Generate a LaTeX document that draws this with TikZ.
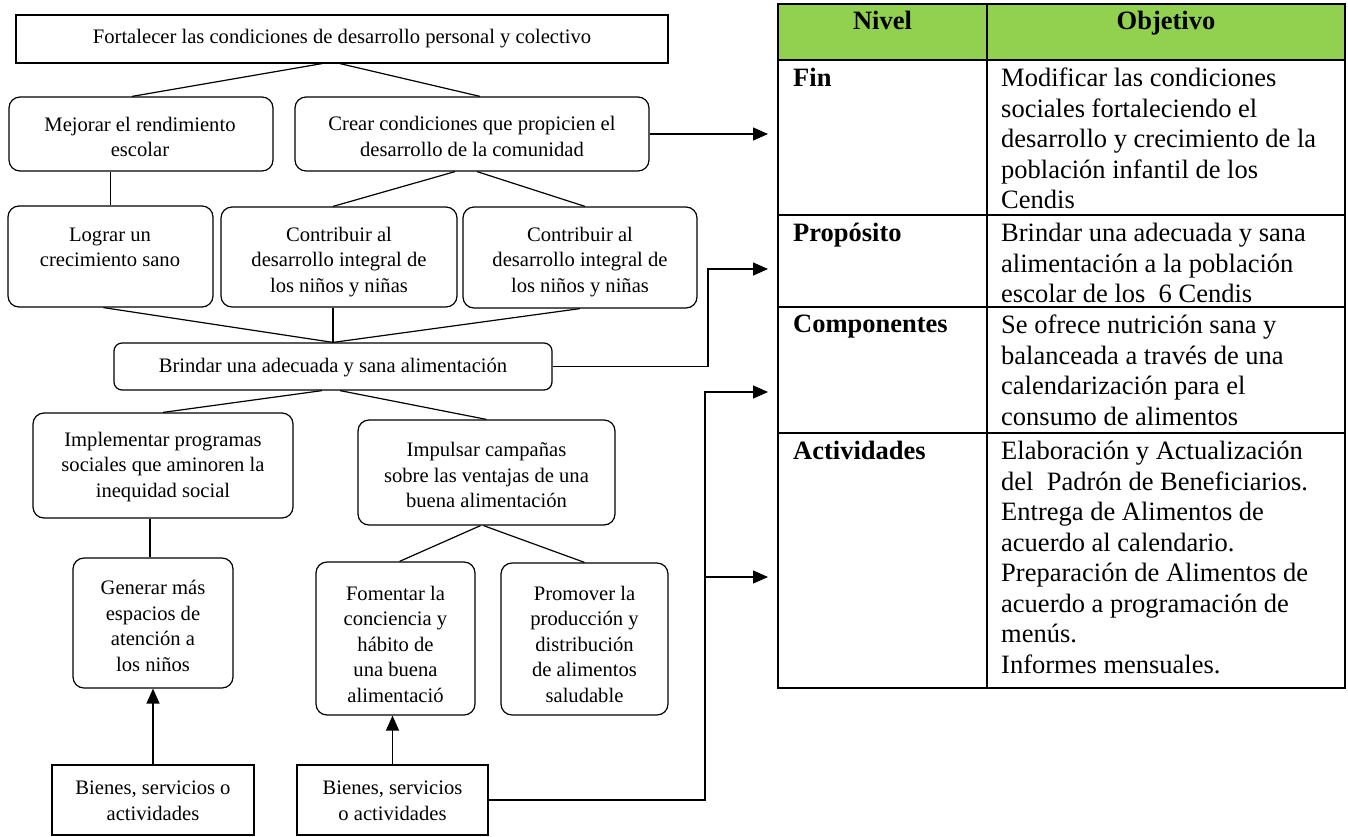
\documentclass[tikz,border=0pt]{standalone}
\usepackage{fontspec}
\setmainfont{Liberation Serif}
\usetikzlibrary{arrows.meta,calc}
\newcommand\diagfont{\fontsize{20.6}{25.5}\selectfont}
\newcommand\tabfont{\fontsize{26.5}{30.5}\selectfont}
\newcommand\tabbold{\fontsize{26.5}{30.5}\selectfont\bfseries}
\definecolor{hdrgreen}{HTML}{92D050}
\begin{document}
\begin{tikzpicture}[x=1pt,y=-1pt,
  box/.style={draw, line width=1.2pt, rounded corners=11pt, inner sep=0pt},
  sbox/.style={draw, line width=1.2pt, inner sep=0pt},
  txt/.style={align=center, inner sep=0pt, font=\diagfont},
  ln/.style={line width=1.2pt},
  arr/.style={line width=1.3pt, -{Triangle[length=15pt,width=13pt]}},
  tline/.style={line width=2.4pt},
  ttext/.style={anchor=north west, inner sep=0pt, align=left, font=\tabfont},
  thead/.style={anchor=base, inner sep=0pt, font=\tabbold},
  tlabel/.style={anchor=north west, inner sep=0pt, align=left, font=\tabbold},
  ]
\useasboundingbox (0,0) rectangle (1348,836);

% ---------- boxes ----------
\node[sbox, minimum width=652pt, minimum height=48pt] (top) at (342,39) {};
\node[box, minimum width=264pt, minimum height=74pt] (mej) at (141,134) {};
\node[box, minimum width=354pt, minimum height=74pt] (crear) at (472,134) {};
\node[box, minimum width=205pt, minimum height=101pt] (log) at (110.5,256.5) {};
\node[box, minimum width=236pt, minimum height=100pt] (con1) at (339,257) {};
\node[box, minimum width=234pt, minimum height=101pt] (con2) at (580,257.5) {};
\node[box, rounded corners=8pt, minimum width=438pt, minimum height=47pt] (brin) at (333,366.5) {};
\node[box, minimum width=260pt, minimum height=105pt] (impl) at (163,465.5) {};
\node[box, minimum width=257pt, minimum height=105pt] (impu) at (486.5,472.5) {};
\node[box, minimum width=160pt, minimum height=130pt] (gen) at (153,623) {};
\node[box, minimum width=159pt, minimum height=153pt] (fom) at (395.5,638.5) {};
\node[box, minimum width=167pt, minimum height=152pt] (prom) at (584.5,639) {};
\node[sbox, minimum width=202pt, minimum height=70pt] (bien1) at (153,800) {};
\node[sbox, minimum width=191pt, minimum height=70pt] (bien2) at (392.5,800) {};

% ---------- texts ----------
\node[txt] (topt) at (342,39) {Fortalecer las condiciones de desarrollo personal y colectivo};
\node[txt] (mejt) at (140,137) {Mejorar el rendimiento\\escolar};
\node[txt] (creart) at (472,136.5) {Crear condiciones que propicien el\\desarrollo de la comunidad};
\node[txt] (logt) at (110,247.5) {Lograr un\\crecimiento sano};
\node[txt] (con1t) at (339,262) {Contribuir al\\desarrollo integral de\\los niños y niñas};
\node[txt] (con2t) at (580,262) {Contribuir al\\desarrollo integral de\\los niños y niñas};
\node[txt] (brint) at (333,368) {Brindar una adecuada y sana alimentación};
\node[txt] (implt) at (163,467) {Implementar programas\\sociales que aminoren la\\inequidad social};
\node[txt] (imput) at (486.5,475) {Impulsar campañas\\sobre las ventajas de una\\buena alimentación};
\node[txt] (gent) at (153,626) {Generar más\\espacios de\\atención a\\los niños};
\node[txt] (fomt) at (395.5,644) {Fomentar la\\conciencia y\\hábito de\\una buena\\alimentació};
\node[txt] (promt) at (584.5,644) {Promover la\\producción y\\distribución\\de alimentos\\saludable};
\node[txt] (bien1t) at (153,801) {Bienes, servicios o\\actividades};
\node[txt] (bien2t) at (392.5,801) {Bienes, servicios\\o actividades};

% ---------- connectors ----------
\draw[ln] ([xshift=-20pt]top.south) -- ([xshift=-9pt]mej.north);
\draw[ln] ([xshift=-2pt]top.south) -- ([xshift=8pt]crear.north);
\draw[ln] (log.north |- mej.south) -- (log.north);
\draw[ln] ([xshift=-17pt]crear.south) -- ([xshift=-6pt]con1.north);
\draw[ln] ([xshift=5pt]crear.south) -- ([xshift=5pt]con2.north);
\draw[ln] ([xshift=-7pt]log.south) -- (brin.north);
\draw[ln] (brin.north |- con1.south) -- (brin.north);
\draw[ln] (con2.south) -- (brin.north);
\draw[ln] ([xshift=-11pt]brin.south) -- (impl.north);
\draw[ln] ([xshift=7pt]brin.south) -- (impu.north);
\draw[ln] ([xshift=-13pt]impl.south) -- ([xshift=-3pt]gen.north);
\draw[ln] ([xshift=-6pt]impu.south) -- ([xshift=4pt]fom.north);
\draw[ln] ([xshift=-3pt]impu.south) -- (prom.north);
\draw[arr] (bien1.north) -- (gen.south);
\draw[arr] (bien2.north) -- (bien2.north |- fom.south);

\coordinate (t1) at (768,134);
\coordinate (t2) at (768,269);
\coordinate (j2) at (708,269);
\coordinate (t3) at (768,392);
\coordinate (j3) at (705,392);
\coordinate (t4) at (768,577);
\coordinate (j4) at (705,577);
\draw[arr] (crear.east) -- (t1);
\draw[arr] (brin.east) -| (j2) -- (t2);
\draw[arr] (bien2.east) -| (j3) -- (t3);
\draw[arr] (j4) -- (t4);

% ---------- table ----------
\fill[hdrgreen] (778,4) rectangle (1345,60);
\draw[tline] (778,60) -- (1345,60);
\draw[tline] (778,215) -- (1345,215);
\draw[tline] (778,307) -- (1345,307);
\draw[tline] (778,433) -- (1345,433);
\draw[tline] (987,4) -- (987,688);
\draw[tline] (778,4) rectangle (1345,688);

\node[thead] (hniv) at (882.5,29) {Nivel};
\node[thead] (hobj) at (1166,29) {Objetivo};

\node[tlabel] (lfin) at (793,68) {Fin};
\node[ttext] (ofin) at (1001,68) {Modificar las condiciones\\sociales fortaleciendo el\\desarrollo y crecimiento de la\\población infantil de los\\Cendis};
\node[tlabel] (lpro) at (793,223) {Propósito};
\node[ttext] (opro) at (1001,223) {Brindar una adecuada y sana\\alimentación a la población\\escolar de los \ 6 Cendis};
\node[tlabel] (lcom) at (793,315) {Componentes};
\node[ttext] (ocom) at (1001,315) {Se ofrece nutrición sana y\\balanceada a través de una\\calendarización para el\\consumo de alimentos};
\node[tlabel] (lact) at (793,441) {Actividades};
\node[ttext] (oact) at (1001,441) {Elaboración y Actualización\\del \ Padrón de Beneficiarios.\\Entrega de Alimentos de\\acuerdo al calendario.\\Preparación de Alimentos de\\acuerdo a programación de\\menús.\\Informes mensuales.};
\end{tikzpicture}
\end{document}
